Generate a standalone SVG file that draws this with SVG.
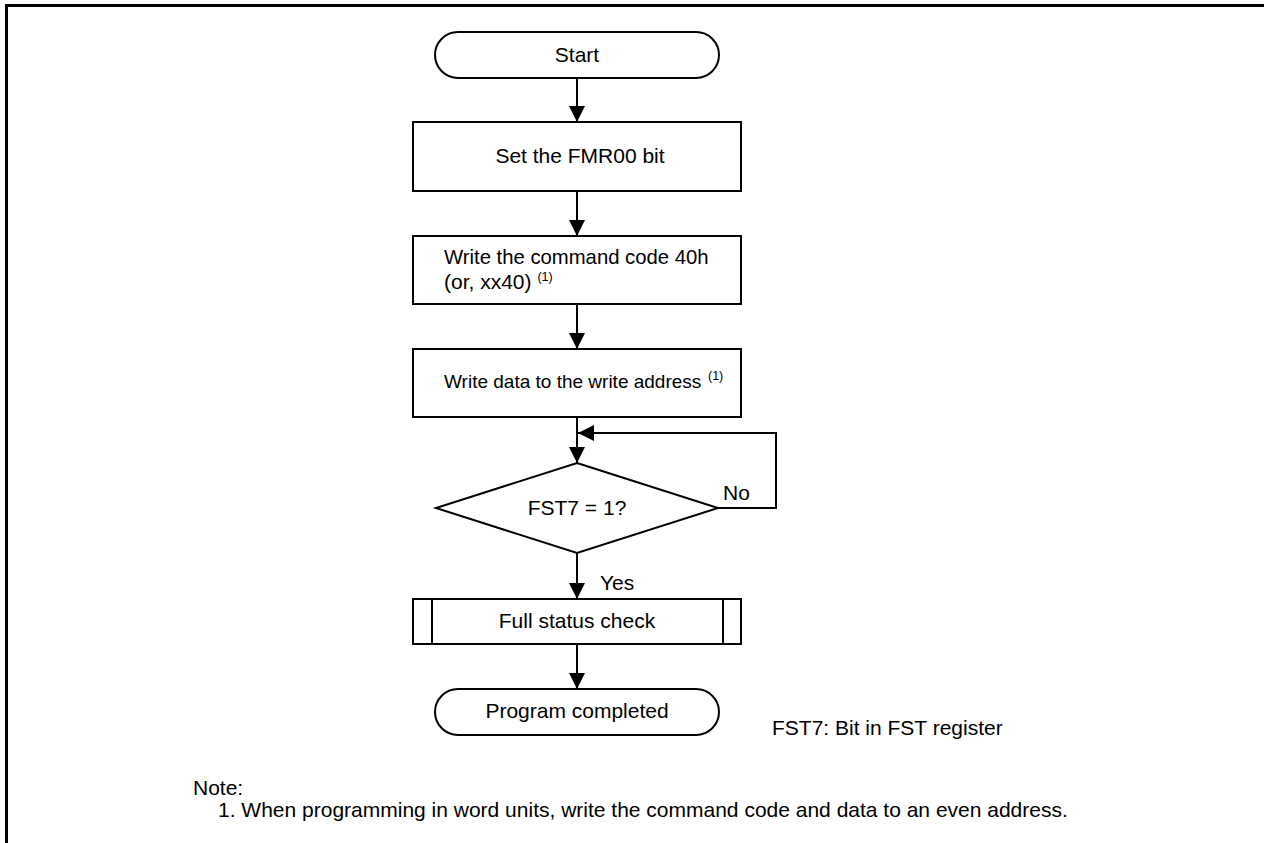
<svg xmlns="http://www.w3.org/2000/svg" width="1264" height="843" viewBox="0 0 1264 843">
<style>
text{font-family:"Liberation Sans",Arial,sans-serif;font-size:21px;fill:#000}
.c{text-anchor:middle}
.sup{font-size:12.5px}
.shape{fill:#fff;stroke:#000;stroke-width:2}
.line{fill:none;stroke:#000;stroke-width:2}
</style>
<defs>
<marker id="arr" markerUnits="userSpaceOnUse" markerWidth="16" markerHeight="16" viewBox="0 0 16 16" refX="16" refY="8" orient="auto">
<path d="M0,0 L16,8 L0,16 Z" fill="#000"/>
</marker>
</defs>
<rect width="1264" height="843" fill="#fff"/>
<path d="M6.5,843 V5.5 H1264" fill="none" stroke="#000" stroke-width="3"/>
<g id="connectors">
<line class="line" x1="577" y1="78" x2="577" y2="122" marker-end="url(#arr)"/>
<line class="line" x1="577" y1="191" x2="577" y2="236" marker-end="url(#arr)"/>
<line class="line" x1="577" y1="304" x2="577" y2="349" marker-end="url(#arr)"/>
<line class="line" x1="577" y1="417" x2="577" y2="463" marker-end="url(#arr)"/>
<polyline class="line" points="718,508 776,508 776,433 578,433" marker-end="url(#arr)"/>
<line class="line" x1="577" y1="553" x2="577" y2="599" marker-end="url(#arr)"/>
<line class="line" x1="577" y1="644" x2="577" y2="689" marker-end="url(#arr)"/>
<text x="723" y="500">No</text>
<text x="600" y="590">Yes</text>
</g>
<g id="start">
<rect class="shape" x="435" y="32" width="284" height="46" rx="23" ry="23"/>
<text class="c" x="577" y="62">Start</text>
</g>
<g id="setbit">
<rect class="shape" x="413" y="122" width="328" height="69"/>
<text class="c" x="580" y="163">Set the FMR00 bit</text>
</g>
<g id="writecmd">
<rect class="shape" x="413" y="236" width="328" height="68"/>
<text x="444" y="264" style="font-size:20.3px">Write the command code 40h</text>
<text x="444" y="289">(or, xx40) <tspan class="sup" dy="-8">(1)</tspan></text>
</g>
<g id="writedata">
<rect class="shape" x="413" y="349" width="328" height="68"/>
<text x="444" y="388" style="font-size:19px">Write data to the write address</text>
<text class="sup" x="708" y="380">(1)</text>
</g>
<g id="decision">
<polygon class="shape" points="577,463 718,508 577,553 436,508"/>
<text class="c" x="577" y="515">FST7 = 1?</text>
</g>
<g id="statuscheck">
<rect class="shape" x="413" y="599" width="328" height="45"/>
<line class="line" x1="432" y1="599" x2="432" y2="644"/>
<line class="line" x1="723" y1="599" x2="723" y2="644"/>
<text class="c" x="577" y="628">Full status check</text>
</g>
<g id="end">
<rect class="shape" x="435" y="689" width="284" height="46" rx="23" ry="23"/>
<text class="c" x="577" y="718">Program completed</text>
</g>
<g id="notes">
<text x="772" y="735">FST7: Bit in FST register</text>
<text x="193" y="795">Note:</text>
<text x="218" y="817">1. When programming in word units, write the command code and data to an even address.</text>
</g>
</svg>
